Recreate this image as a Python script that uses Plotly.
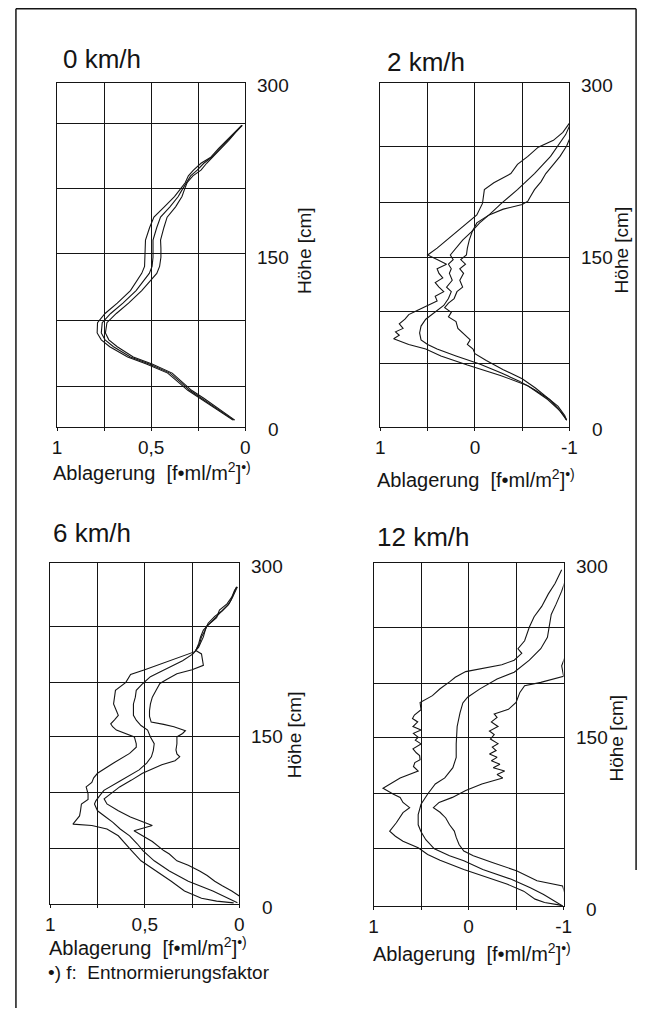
import plotly.graph_objects as go

# The page body has an 8 px margin, so the figure is 640x1000 and offset by 8 px.
OFF = 8
W, H = 640, 1000

# ---------------- data (Ablagerung value v vs. Höhe h in cm) ----------------
# Panel 1: 0 km/h
h1 = [6, 15, 25, 32, 40, 47, 55, 61, 70, 76, 82, 91, 99, 108, 119, 128, 134, 140, 148, 156,
      163, 174, 183, 192, 201, 207, 213, 219, 224, 230, 235, 243, 250, 257, 263]
m1 = [0.06, 0.14, 0.23, 0.295, 0.35, 0.40, 0.51, 0.61, 0.70, 0.745, 0.765, 0.76, 0.715, 0.65, 0.58,
      0.54, 0.51, 0.495, 0.49, 0.49, 0.49, 0.47, 0.45, 0.40, 0.356, 0.335, 0.314, 0.29, 0.255, 0.22,
      0.18, 0.135, 0.093, 0.055, 0.017]
u1 = [0.065, 0.148, 0.24, 0.305, 0.362, 0.412, 0.525, 0.625, 0.72, 0.765, 0.787, 0.785, 0.745, 0.68,
      0.61, 0.575, 0.55, 0.535, 0.532, 0.532, 0.53, 0.508, 0.485, 0.43, 0.376, 0.347, 0.319, 0.302,
      0.275, 0.235, 0.185, 0.141, 0.099, 0.059, 0.019]
l1 = [0.055, 0.132, 0.22, 0.285, 0.338, 0.388, 0.495, 0.595, 0.68, 0.725, 0.743, 0.735, 0.685, 0.62,
      0.55, 0.505, 0.47, 0.455, 0.448, 0.448, 0.45, 0.432, 0.415, 0.37, 0.336, 0.323, 0.309, 0.278,
      0.235, 0.205, 0.175, 0.129, 0.087, 0.051, 0.015]

# Panel 2: 2 km/h
h2_left = [6, 14, 24, 36, 45, 54, 62, 68, 72, 77, 80, 83, 86, 90, 94, 98, 102, 106, 110, 114, 118,
           122, 126, 130, 134, 138, 142, 146, 150, 156, 163, 170, 178, 185, 195, 200, 207, 213, 221,
           229, 236, 244, 250, 257, 265]
v2_left = [-0.97, -0.90, -0.77, -0.56, -0.27, 0.08, 0.36, 0.52, 0.70, 0.86, 0.80, 0.84, 0.76, 0.80,
           0.74, 0.70, 0.60, 0.50, 0.40, 0.42, 0.33, 0.38, 0.42, 0.34, 0.38, 0.40, 0.30, 0.40, 0.50,
           0.40, 0.30, 0.20, 0.08, -0.02, -0.08, -0.09, -0.10, -0.20, -0.38, -0.45, -0.56, -0.67,
           -0.83, -0.93, -1.0]
h2_mid = [6, 10, 16, 24, 32, 40, 47, 55, 62, 68, 72, 76, 82, 88, 94, 100, 106, 112, 118, 122, 128,
          134, 138, 142, 146, 150, 156, 163, 170, 178, 185, 195, 207, 221, 236, 245, 255, 268]
v2_mid = [-0.97, -0.94, -0.88, -0.79, -0.64, -0.47, -0.28, -0.05, 0.20, 0.40, 0.50, 0.57, 0.585,
          0.57, 0.52, 0.42, 0.33, 0.28, 0.25, 0.30, 0.24, 0.27, 0.25, 0.28, 0.23, 0.26, 0.20, 0.13,
          0.04, -0.05, -0.15, -0.28, -0.45, -0.63, -0.80, -0.88, -0.96, -1.03]
h2_right = [6, 10, 18, 26, 34, 42, 50, 58, 64, 68, 72, 76, 80, 86, 92, 96, 100, 104, 108, 112, 118,
            122, 128, 134, 138, 142, 146, 150, 156, 163, 170, 178, 185, 190, 194, 197, 200, 207,
            214, 221, 228, 236, 245, 255, 268]
v2_right = [-0.97, -0.95, -0.88, -0.76, -0.64, -0.50, -0.30, -0.12, 0.00, 0.02, 0.08, 0.05, 0.10,
            0.18, 0.20, 0.28, 0.25, 0.32, 0.28, 0.22, 0.19, 0.13, 0.16, 0.12, 0.16, 0.10, 0.15, 0.09,
            0.08, 0.06, 0.03, -0.02, -0.15, -0.30, -0.50, -0.56, -0.58, -0.63, -0.70, -0.75, -0.82,
            -0.90, -0.97, -1.02, -1.04]

# Panel 3: 6 km/h
h3_left = [1, 2.5, 5, 11.5, 20, 29, 38, 47, 53, 60, 66, 69, 70.3, 74, 77.5, 82, 88, 92, 97, 103,
           107, 111, 115, 124, 132.5, 138, 141, 147, 153, 156, 158.5, 162, 166, 170, 176, 182, 188,
           195, 202, 206, 211, 217, 222, 229, 235, 241, 247, 253, 258, 263, 267, 273, 279]
v3_left = [0.03, 0.12, 0.20, 0.29, 0.36, 0.44, 0.52, 0.57, 0.60, 0.64, 0.70, 0.78, 0.88, 0.86,
           0.845, 0.84, 0.835, 0.80, 0.80, 0.81, 0.78, 0.77, 0.75, 0.665, 0.58, 0.545, 0.545, 0.555,
           0.65, 0.67, 0.68, 0.66, 0.64, 0.65, 0.665, 0.66, 0.655, 0.60, 0.575, 0.50, 0.42, 0.32,
           0.235, 0.21, 0.20, 0.18, 0.165, 0.13, 0.09, 0.06, 0.045, 0.03, 0.015]
h3_mid = [1, 5, 11.5, 20, 29, 38, 47, 53, 60, 66, 72, 77, 82, 88, 91, 96, 100, 108, 118, 124,
          129.5, 135, 141, 147, 153, 157, 161.5, 166, 170, 176, 182, 188, 194, 200, 204, 208, 214,
          220, 226, 235, 244, 252, 258.5, 264, 270, 276, 279]
v3_mid = [0.01, 0.06, 0.14, 0.27, 0.37, 0.45, 0.51, 0.54, 0.58, 0.63, 0.67, 0.71, 0.75, 0.766,
          0.758, 0.735, 0.716, 0.633, 0.53, 0.49, 0.465, 0.455, 0.45, 0.47, 0.485, 0.52, 0.544, 0.56,
          0.561, 0.56, 0.55, 0.545, 0.51, 0.47, 0.42, 0.37, 0.30, 0.245, 0.215, 0.19, 0.175, 0.12,
          0.105, 0.065, 0.04, 0.025, 0.012]
h3_right = [7, 11.5, 16, 20, 25, 29, 34, 38, 44, 47, 55, 61.5, 64.4, 69, 76.5, 82, 88, 92.5, 97,
            103, 109, 115, 122.5, 126, 129.5, 132, 135.5, 141, 147, 150, 152.5, 154, 156, 158, 160,
            165, 170, 176, 182, 188, 194, 198, 202.6, 206, 210, 215, 220, 223, 229, 235, 241, 247,
            253, 258.5, 264, 270, 276, 279]
v3_right = [0.0, 0.04, 0.09, 0.13, 0.17, 0.21, 0.27, 0.33, 0.37, 0.40, 0.46, 0.53, 0.557, 0.46,
            0.576, 0.64, 0.70, 0.715, 0.68, 0.633, 0.57, 0.512, 0.41, 0.34, 0.315, 0.33, 0.335, 0.33,
            0.33, 0.30, 0.285, 0.31, 0.346, 0.40, 0.466, 0.475, 0.475, 0.47, 0.46, 0.44, 0.42, 0.38,
            0.33, 0.25, 0.19, 0.195, 0.20, 0.23, 0.215, 0.205, 0.19, 0.155, 0.12, 0.085, 0.055,
            0.035, 0.02, 0.01]

# Panel 4: 12 km/h
h4_left = [0, 1, 3, 6, 13, 19, 25, 32, 40, 45, 50.9, 56.7, 61, 65.5, 72.8, 81.7, 86, 90.6, 95,
           97.8, 103, 107, 112, 118, 122, 125.5, 128, 131.5, 134, 137.5, 141.8, 145, 147.6, 151,
           154, 157, 161, 164, 167, 171.6, 178, 184, 190, 196, 200, 205, 208, 211, 215, 221, 225,
           232, 244, 253, 262, 273, 282, 294]
v4_left = [-0.99, -0.95, -0.80, -0.70, -0.58, -0.41, -0.20, 0.05, 0.30, 0.43, 0.53, 0.69, 0.77,
           0.83, 0.76, 0.69, 0.62, 0.69, 0.72, 0.79, 0.90, 0.82, 0.72, 0.53, 0.58, 0.565, 0.51,
           0.515, 0.55, 0.585, 0.50, 0.56, 0.53, 0.58, 0.50, 0.585, 0.535, 0.59, 0.57, 0.50, 0.51,
           0.38, 0.30, 0.20, 0.14, 0.03, -0.15, -0.35, -0.48, -0.56, -0.52, -0.59, -0.64, -0.69,
           -0.77, -0.84, -0.91, -0.98]
h4_mid = [0, 1, 5, 10, 16, 23.4, 32, 39.5, 44, 50, 58, 65, 71, 80, 89, 98, 106.7, 112, 121, 130,
          141.8, 157, 169, 177.6, 182.6, 189.9, 198.6, 204.5, 215, 225, 235, 244, 255, 263.8,
          275.4, 285]
v4_mid = [-0.99, -0.97, -0.90, -0.79, -0.65, -0.45, -0.15, 0.05, 0.20, 0.36, 0.45, 0.50, 0.53,
          0.53, 0.50, 0.43, 0.35, 0.25, 0.165, 0.13, 0.13, 0.12, 0.09, 0.06, 0.01, -0.12, -0.30,
          -0.48, -0.64, -0.76, -0.83, -0.85, -0.87, -0.92, -0.98, -1.02]
h4_right = [9, 17.5, 22, 26, 30.7, 38, 44, 48, 53.8, 60, 65.5, 71, 77, 82, 86, 90.6, 95, 101,
            106.7, 112, 115, 118, 121, 124, 127, 130, 133, 136, 139, 142, 146, 150, 153, 157, 161,
            165, 168, 172, 178, 186.8, 192.7, 195.6, 198.6, 201, 210, 219]
v4_right = [-1.02, -0.99, -0.72, -0.62, -0.51, -0.25, -0.05, 0.05, 0.10, 0.13, 0.15, 0.20, 0.24,
            0.30, 0.37, 0.31, 0.17, 0.03, -0.14, -0.36, -0.30, -0.38, -0.26, -0.33, -0.24, -0.30,
            -0.22, -0.29, -0.25, -0.31, -0.23, -0.27, -0.22, -0.31, -0.24, -0.30, -0.27, -0.42,
            -0.50, -0.54, -0.59, -0.76, -0.90, -1.0, -0.98, -1.02]

# Axis / tick definitions
titles = ["0 km/h", "2 km/h", "6 km/h", "12 km/h"]
x_ranges = [[1, 0], [1, -1], [1, 0], [1, -1]]
x_tickvals = [[1, 0.5, 0], [1, 0, -1], [1, 0.5, 0], [1, 0, -1]]
x_ticktext = [["1", "0,5", "0"], ["1", "0", "-1"], ["1", "0,5", "0"], ["1", "0", "-1"]]
x_minor = [[0.75, 0.25], [0.5, -0.5], [0.75, 0.25], [0.5, -0.5]]
y_grid = [[35, 93, 151, 208, 265], [55, 101, 148, 196, 245], [49, 98, 147, 195, 244], [50, 98, 147, 195, 244]]
y_labels = [0, 150, 300]
x_title = "Ablagerung\u00a0\u00a0[f\u2022ml/m<sup>2</sup>]<sup>\u2022)</sup>"
y_title = "Höhe [cm]"
footnote = "\u2022) f:\u00a0 Entnormierungsfaktor"

# ---------------- layout geometry (page pixels) ----------------
boxes = [(53, 245, 83, 427), (383, 576, 83, 427), (46, 239, 563, 904), (376, 570, 563, 906)]
title_pos = [(57, 59), (388, 62), (47, 533), (378, 537)]
xtitle_pos = [(47, 472), (378, 478), (43, 946), (373, 952)]
ytitle_pos = [(305, 250), (629, 250), (295, 735), (624, 738)]


def px(x):
    return (x - OFF) / W


def py(y):
    return 1 - (y - OFF) / H


FONT = "Liberation Sans, Arial, Helvetica, sans-serif"
INK = "#151515"

series = [
    [(h1, u1), (h1, m1), (h1, l1)],
    [(h2_left, v2_left), (h2_mid, v2_mid), (h2_right, v2_right)],
    [(h3_left, v3_left), (h3_mid, v3_mid), (h3_right, v3_right)],
    [(h4_left, v4_left), (h4_mid, v4_mid), (h4_right, v4_right)],
]

fig = go.Figure()
layout = dict(
    width=W, height=H, autosize=False,
    margin=dict(l=0, r=0, t=0, b=0),
    paper_bgcolor="white", plot_bgcolor="white",
    showlegend=False,
    font=dict(family=FONT, color=INK),
)
annotations = []

for i in range(4):
    n = i + 1
    xa = "x" if n == 1 else f"x{n}"
    ya = "y" if n == 1 else f"y{n}"
    for hh, vv in series[i]:
        fig.add_trace(go.Scatter(x=vv, y=hh, mode="lines", xaxis=xa, yaxis=ya,
                                 line=dict(color=INK, width=1.1), hoverinfo="skip"))
    x0, x1, y0, y1 = boxes[i]
    layout["xaxis" if n == 1 else f"xaxis{n}"] = dict(
        domain=[px(x0), px(x1)], range=x_ranges[i], anchor=ya,
        tickmode="array", tickvals=x_tickvals[i], ticktext=x_ticktext[i],
        showgrid=True, gridcolor=INK, gridwidth=1,
        minor=dict(tickmode="array", tickvals=x_minor[i], showgrid=True, gridcolor=INK,
                   gridwidth=1, ticks="outside", ticklen=3, tickcolor=INK, tickwidth=1),
        showline=True, mirror=True, linecolor=INK, linewidth=1.4,
        ticks="outside", ticklen=3, tickcolor=INK, tickwidth=1,
        tickfont=dict(size=19, family=FONT, color=INK),
        zeroline=False, fixedrange=True,
    )
    layout["yaxis" if n == 1 else f"yaxis{n}"] = dict(
        domain=[py(y1), py(y0)], range=[0, 300], anchor=xa, side="right",
        tickmode="array", tickvals=y_grid[i], showticklabels=False, ticks="",
        showgrid=True, gridcolor=INK, gridwidth=1.2,
        showline=True, mirror=True, linecolor=INK, linewidth=1.2,
        zeroline=False, fixedrange=True,
    )
    # panel title
    tx, ty = title_pos[i]
    annotations.append(dict(text=titles[i], xref="paper", yref="paper", x=px(tx), y=py(ty),
                            xanchor="left", yanchor="middle", showarrow=False,
                            font=dict(size=26, family=FONT, color=INK)))
    # y tick labels, centred to the right of the frame
    for val in y_labels:
        annotations.append(dict(text=str(val), xref=f"{xa} domain", yref=ya, x=1, y=val,
                                xshift=28, yshift=-3, xanchor="center", yanchor="middle",
                                showarrow=False, font=dict(size=19, family=FONT, color=INK)))
    # x title
    ax, ay = xtitle_pos[i]
    annotations.append(dict(text=x_title, xref="paper", yref="paper", x=px(ax), y=py(ay),
                            xanchor="left", yanchor="middle", showarrow=False,
                            font=dict(size=20, family=FONT, color=INK)))
    # y title
    yx, yy = ytitle_pos[i]
    annotations.append(dict(text=y_title, xref="paper", yref="paper", x=px(yx), y=py(yy),
                            xanchor="center", yanchor="middle", textangle=-90, showarrow=False,
                            font=dict(size=19, family=FONT, color=INK)))

annotations.append(dict(text=footnote, xref="paper", yref="paper", x=px(42), y=py(972),
                        xanchor="left", yanchor="middle", showarrow=False,
                        font=dict(size=19, family=FONT, color=INK)))

# outer frame of the figure page (top, left, right)
shapes = [
    dict(type="line", xref="paper", yref="paper", x0=px(11), x1=px(644), y0=py(8.8), y1=py(8.8),
         line=dict(color=INK, width=1.5)),
    dict(type="line", xref="paper", yref="paper", x0=px(11), x1=px(11), y0=py(8.8), y1=py(1016),
         line=dict(color=INK, width=1.5)),
    dict(type="line", xref="paper", yref="paper", x0=px(644), x1=px(644), y0=py(8.8), y1=py(870),
         line=dict(color=INK, width=1.5)),
]

layout["annotations"] = annotations
layout["shapes"] = shapes
fig.update_layout(**layout)
fig.write_html("out.html")
